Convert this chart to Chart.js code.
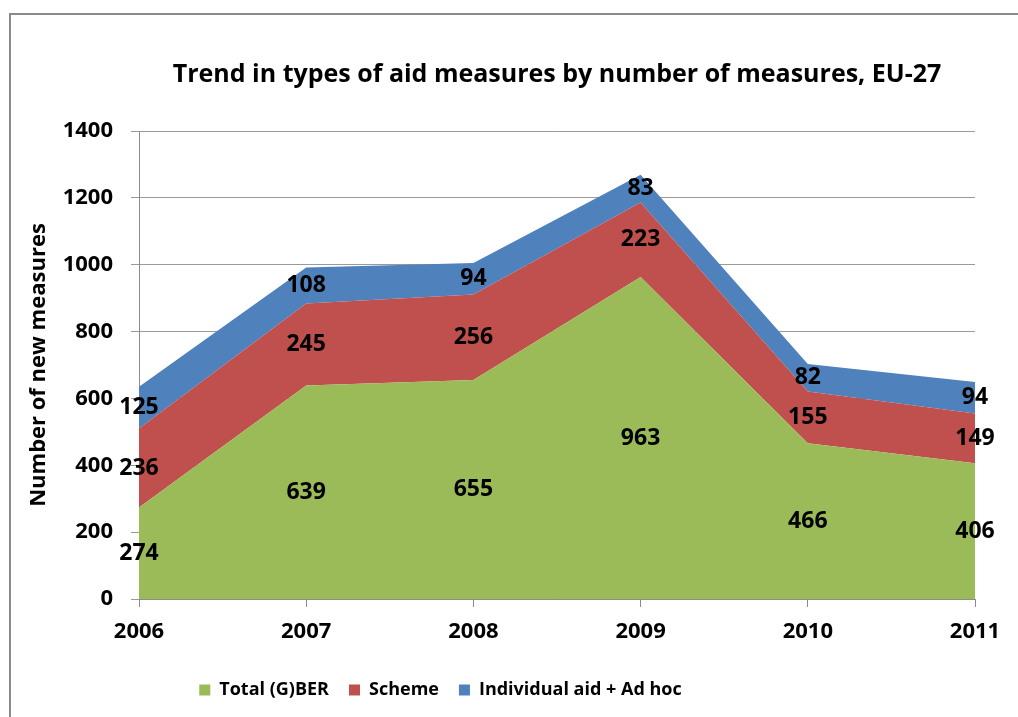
<!DOCTYPE html>
<html>
<head>
<meta charset="utf-8">
<script src="https://cdn.jsdelivr.net/npm/chart.js@4.4.1/dist/chart.umd.min.js"></script>
<style>
    html, body { margin: 0; padding: 0; background: #ffffff; }
    #frame {
        position: absolute;
        left: 9px;
        top: 13px;
        width: 1020px;
        height: 720px;
        border-left: 2px solid #8a8a8a;
        border-top: 2px solid #8a8a8a;
    }
    #wrap { position: absolute; left: 0; top: 0; width: 1018px; height: 717px; }
</style>
</head>
<body>
<div id="frame"></div>
<div id="wrap"><canvas id="chart" width="1018" height="717"></canvas></div>
<script>
// Chart data
const years = ['2006', '2007', '2008', '2009', '2010', '2011'];
const gberValues = [274, 639, 655, 963, 466, 406];
const schemeValues = [236, 245, 256, 223, 155, 149];
const individualValues = [125, 108, 94, 83, 82, 94];
const yTicks = [0, 200, 400, 600, 800, 1000, 1200, 1400];

const FONT = "'Open Sans', sans-serif";

// Draw value labels in the middle of each band
const bandLabels = {
    id: 'bandLabels',
    afterDatasetsDraw(chart) {
        const ctx = chart.ctx;
        const yScale = chart.scales.y;
        ctx.save();
        ctx.font = 'bold 23px ' + FONT;
        ctx.fillStyle = '#000';
        ctx.textAlign = 'center';
        ctx.textBaseline = 'middle';
        const base = years.map(() => 0);
        chart.data.datasets.forEach((ds, i) => {
            const meta = chart.getDatasetMeta(i);
            ds.data.forEach((v, j) => {
                const x = meta.data[j].x;
                const y = yScale.getPixelForValue(base[j] + v / 2);
                ctx.fillText(String(v), x, y);
                base[j] += v;
            });
        });
        ctx.restore();
    }
};

// The legend sits a bit left of the centre in the original
const legendShift = {
    id: 'legendShift',
    afterLayout(chart) {
        chart.legend.left -= 53;
        chart.legend.right -= 53;
    }
};

const initChart = () => {
    const ctx = document.getElementById('chart').getContext('2d');

    new Chart(ctx, {
        type: 'line',
        data: {
            labels: years,
            datasets: [
                {
                    label: 'Total (G)BER',
                    data: gberValues,
                    backgroundColor: '#9BBB59',
                    borderColor: '#9BBB59',
                    borderWidth: 0,
                    fill: 'origin'
                },
                {
                    label: 'Scheme',
                    data: schemeValues,
                    backgroundColor: '#C0504D',
                    borderColor: '#C0504D',
                    borderWidth: 0,
                    fill: '-1'
                },
                {
                    label: 'Individual aid + Ad hoc',
                    data: individualValues,
                    backgroundColor: '#4F81BD',
                    borderColor: '#4F81BD',
                    borderWidth: 0,
                    fill: '-1'
                }
            ]
        },
        options: {
            responsive: false,
            animation: false,
            layout: {
                padding: { left: 12, right: 43, top: 0, bottom: 8 }
            },
            elements: {
                point: { radius: 0 },
                line: { tension: 0 }
            },
            plugins: {
                title: {
                    display: true,
                    fullSize: false,
                    text: 'Trend in types of aid measures by number of measures, EU-27',
                    color: '#000',
                    font: { family: FONT, size: 25, weight: 'bold' },
                    padding: { top: 60, bottom: 41 }
                },
                legend: {
                    position: 'bottom',
                    labels: {
                        color: '#000',
                        font: { family: FONT, size: 18, weight: 'bold' },
                        boxWidth: 11,
                        boxHeight: 11,
                        padding: 20
                    }
                },
                tooltip: { enabled: false }
            },
            scales: {
                x: {
                    offset: false,
                    grid: {
                        display: true,
                        drawOnChartArea: false,
                        drawTicks: true,
                        tickLength: 8,
                        color: '#8c8c8c'
                    },
                    border: { color: '#8c8c8c' },
                    ticks: {
                        color: '#000',
                        font: { family: FONT, size: 22, weight: 'bold' },
                        padding: 12,
                        maxRotation: 0
                    },
                    afterFit: (scale) => { scale.height = 62; }
                },
                y: {
                    stacked: true,
                    min: 0,
                    max: 1400,
                    afterBuildTicks: (scale) => {
                        scale.ticks = yTicks.map(v => ({ value: v }));
                    },
                    grid: {
                        color: '#9a9a9a',
                        tickLength: 8
                    },
                    border: { color: '#8c8c8c' },
                    ticks: {
                        color: '#000',
                        font: { family: FONT, size: 22, weight: 'bold' },
                        padding: 18,
                        callback: (v) => String(v)
                    },
                    title: {
                        display: true,
                        text: 'Number of new measures',
                        color: '#000',
                        font: { family: FONT, size: 22, weight: 'bold' },
                        padding: { top: 14, bottom: 0 }
                    },
                    afterFit: (scale) => { scale.width = 127; }
                }
            }
        },
        plugins: [bandLabels, legendShift]
    });
};

initChart();
</script>
</body>
</html>
